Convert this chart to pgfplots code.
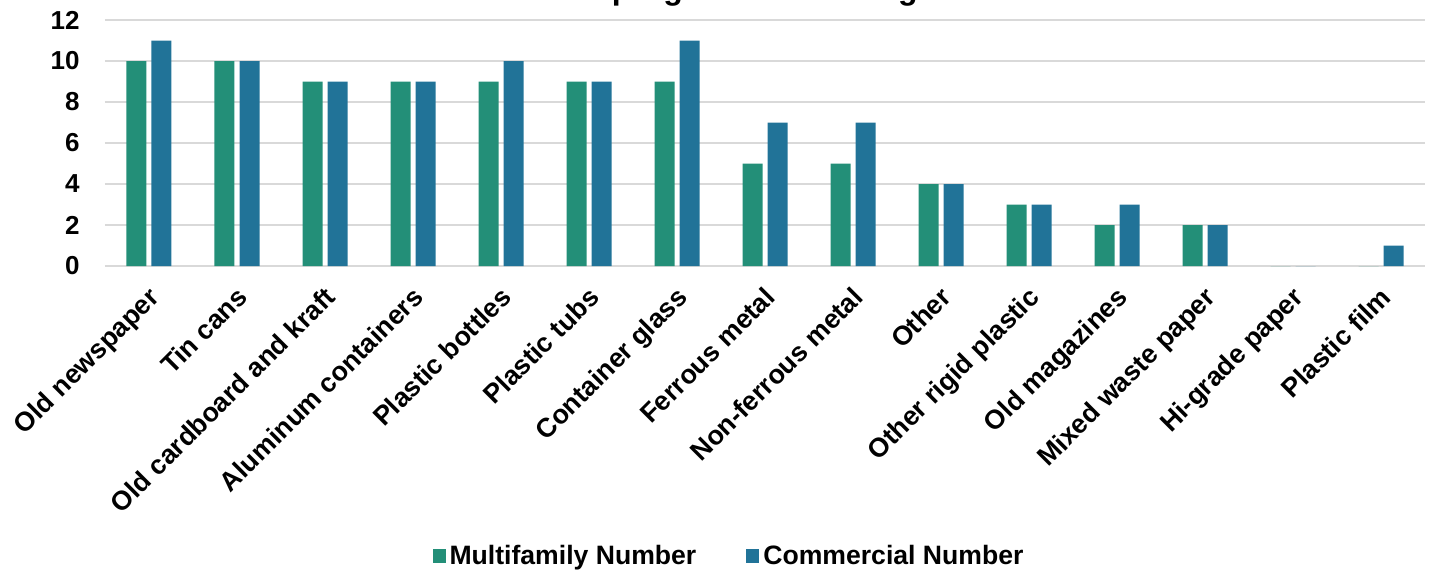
\documentclass[border=0pt]{standalone}
\usepackage{pgfplots}
\pgfplotsset{compat=1.18}
\usepackage{fontspec}
\setmainfont{Liberation Sans}

\definecolor{multiC}{RGB}{35,143,120}
\definecolor{commC}{RGB}{33,115,152}
\definecolor{gridC}{RGB}{217,217,217}

\begin{document}
\begin{tikzpicture}
\begin{axis}[
  at={(0,0)}, anchor=south west,
  scale only axis,
  width=660pt, height=123pt,
  ymin=0, ymax=12, ytick={0,2,...,12},
  xmin=-0.5, xmax=14.5,
  xtick={0,...,14},
  xticklabels={Old newspaper,Tin cans,Old cardboard and kraft,Aluminum containers,Plastic bottles,Plastic tubs,Container glass,Ferrous metal,Non-ferrous metal,Other,Other rigid plastic,Old magazines,Mixed waste paper,Hi-grade paper,Plastic film},
  /pgf/number format/assume math mode=true,
  yticklabel style={font=\fontsize{13}{15}\selectfont\bfseries, anchor=east, inner sep=0pt, xshift=-12.5pt},
  xticklabel style={font=\fontsize{13.4}{15}\selectfont\bfseries, yshift=-9.5pt, xshift=-1pt, rotate=45, anchor=north east, inner sep=0pt},
  axis line style={draw=none},
  major tick length=0pt,
  tick style={draw=none},
  ymajorgrids,
  major grid style={draw=gridC, line width=1pt},
  ybar=2.5pt, bar width=10pt,
  legend style={
    at={(axis description cs:0.4735,-1.179)}, anchor=center,
    draw=none, fill=none,
    font=\fontsize{13.3}{15}\selectfont\bfseries,
    legend columns=2,
    /tikz/every even column/.append style={column sep=23pt},
  },
  legend image code/.code={\fill[#1] (0pt,-3.3pt) rectangle (6.5pt,3.3pt);},
  legend cell align=left,
]
\addplot[fill=multiC, draw=none] coordinates {
  (0,10) (1,10) (2,9) (3,9) (4,9) (5,9) (6,9) (7,5) (8,5) (9,4) (10,3) (11,2) (12,2) (13,0) (14,0)};
\addplot[fill=commC, draw=none] coordinates {
  (0,11) (1,10) (2,9) (3,9) (4,10) (5,9) (6,11) (7,7) (8,7) (9,4) (10,3) (11,3) (12,2) (13,0) (14,1)};
\legend{Multifamily Number, Commercial Number}
\end{axis}
% chart title, its upper part falls outside the page edge
\node[anchor=base, font=\fontsize{16}{19}\selectfont\bfseries] at (325pt,133.3pt)
  {Number of programs collecting materials};
\pgfresetboundingbox
\useasboundingbox (-52.5pt,-154pt) rectangle (662pt,133pt);
\end{tikzpicture}
\end{document}
